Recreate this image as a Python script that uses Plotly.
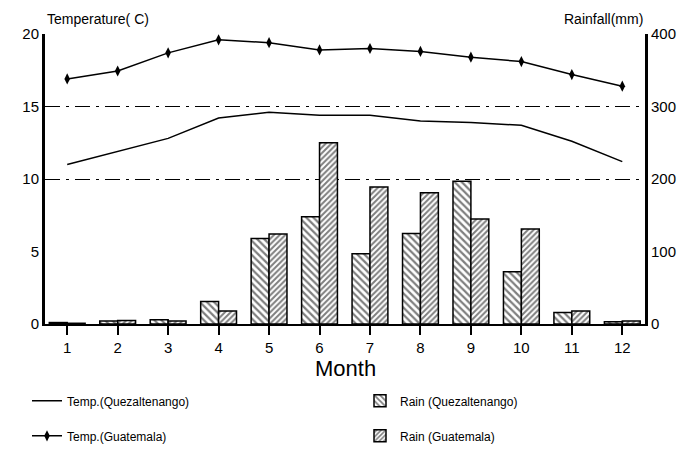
import plotly.graph_objects as go

months = [1, 2, 3, 4, 5, 6, 7, 8, 9, 10, 11, 12]
month_labels = [str(m) for m in months]
temp_quez = [11.0, 11.9, 12.8, 14.2, 14.6, 14.4, 14.4, 14.0, 13.9, 13.7, 12.6, 11.2]
temp_guat = [16.9, 17.45, 18.7, 19.6, 19.4, 18.9, 19.0, 18.8, 18.4, 18.1, 17.2, 16.4]
rain_quez = [2, 4, 6, 31, 118, 148, 97, 125, 197, 72, 16, 3]
rain_guat = [1, 5, 4, 18, 124, 250, 189, 181, 145, 131, 18, 4]
temp_ticks = [0, 5, 10, 15, 20]
rain_ticks = [0, 100, 200, 300, 400]
rain_grid = [200, 300, 400]

FONT = "Liberation Sans, Arial, sans-serif"

fig = go.Figure()
fig.add_trace(go.Bar(
    x=months, y=rain_quez, yaxis="y", name="Rain (Quezaltenango)",
    legend="legend2", legendrank=1, legendgroup="rq",
    marker=dict(color="white", line=dict(color="black", width=1.5),
                pattern=dict(shape="\\", fgcolor="black", bgcolor="white",
                             size=5, solidity=0.45))))
fig.add_trace(go.Bar(
    x=months, y=rain_guat, yaxis="y", name="Rain (Guatemala)",
    legend="legend2", legendrank=2, legendgroup="rg",
    marker=dict(color="white", line=dict(color="black", width=1.5),
                pattern=dict(shape="/", fgcolor="black", bgcolor="white",
                             size=4, solidity=0.5))))
fig.add_trace(go.Scatter(
    x=months, y=temp_quez, yaxis="y2", mode="lines",
    name="Temp.(Quezaltenango)", legend="legend", legendrank=1, legendgroup="tq",
    line=dict(color="black", width=1.5)))
fig.add_trace(go.Scatter(
    x=months, y=temp_guat, yaxis="y2", mode="lines+markers",
    name="Temp.(Guatemala)", legend="legend", legendrank=2, legendgroup="tg",
    line=dict(color="black", width=1.5),
    marker=dict(symbol="diamond-tall", size=8, color="black")))

fig.update_layout(
    width=682, height=465,
    margin=dict(l=37, r=45, t=26, b=149),
    paper_bgcolor="white", plot_bgcolor="white",
    font=dict(family=FONT, color="black", size=15),
    barmode="group", bargap=0.29, bargroupgap=0.0,
    xaxis=dict(range=[0.56, 12.45], tickvals=months, ticktext=month_labels,
               showline=True, linecolor="black", linewidth=1.5,
               ticks="outside", ticklen=9, tickwidth=2, tickcolor="black",
               showgrid=False, zeroline=False,
               tickfont=dict(size=15)),
    yaxis=dict(range=[0, 400], side="right",
               tickvals=rain_ticks, ticktext=[str(v) for v in rain_ticks],
               showline=True, linecolor="black", linewidth=3,
               showgrid=False, zeroline=False, ticks="", tickfont=dict(size=15),
               minor=dict(tickvals=rain_grid, showgrid=True, gridcolor="black",
                          gridwidth=1, griddash="longdashdot", ticks="")),
    yaxis2=dict(range=[0, 20], overlaying="y", side="left",
                tickvals=temp_ticks, ticktext=[str(v) for v in temp_ticks],
                showline=True, linecolor="black", linewidth=3,
                showgrid=False, zeroline=False, ticks="", tickfont=dict(size=15)),
    legend=dict(orientation="v", x=-0.03, xanchor="left", y=-0.215, yanchor="top",
                font=dict(size=12), tracegroupgap=16, traceorder="grouped",
                bgcolor="rgba(0,0,0,0)"),
    legend2=dict(orientation="v", x=0.525, xanchor="left", y=-0.215, yanchor="top",
                 font=dict(size=12), tracegroupgap=16, traceorder="grouped",
                 bgcolor="rgba(0,0,0,0)"),
    showlegend=True,
    annotations=[
        dict(text="Temperature( C)", xref="paper", yref="paper", x=0.0, y=1.086,
             xanchor="left", yanchor="top", showarrow=False, font=dict(size=14)),
        dict(text="Rainfall(mm)", xref="paper", yref="paper", x=1.0, y=1.086,
             xanchor="right", yanchor="top", showarrow=False, font=dict(size=14)),
        dict(text="Month", xref="paper", yref="paper", x=0.5, y=-0.155,
             xanchor="center", yanchor="middle", showarrow=False, font=dict(size=22)),
    ],
)

fig.write_html("out.html")
